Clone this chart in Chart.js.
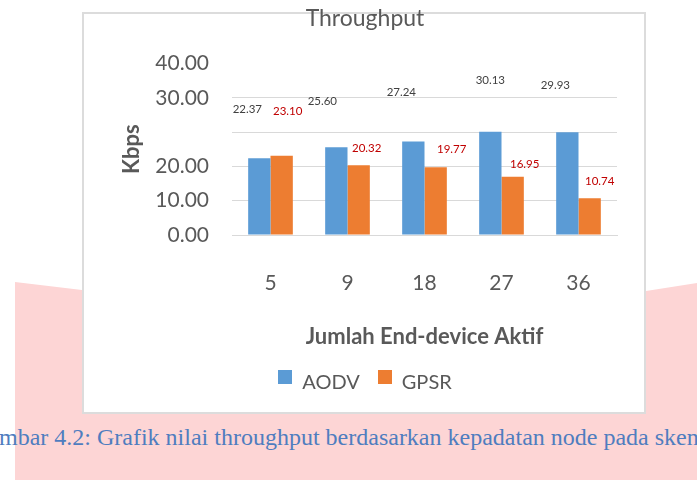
<!DOCTYPE html>
<html><head><meta charset="utf-8">
<script src="https://cdn.jsdelivr.net/npm/chart.js@4.4.1/dist/chart.umd.min.js"></script>
<style>
html,body{margin:0;padding:0;width:697px;height:480px;overflow:hidden;background:#fff;}
#pink{position:absolute;left:0;top:0;width:697px;height:480px;background:#fdd5d5;clip-path:polygon(15px 282px,82px 290px,646px 291px,697px 283px,697px 480px,15px 480px);}
#box{position:absolute;left:82px;top:12px;width:564px;height:402px;box-sizing:border-box;border:2px solid #dcdcdc;background:#fff;}
#c{position:absolute;left:82px;top:0;}
#caption{position:absolute;left:-29px;top:425px;font:24px "Liberation Serif",serif;line-height:24px;color:#4f7dbf;white-space:nowrap;}
</style></head><body>
<div id="pink"></div><div id="box"></div>
<canvas id="c" width="564" height="414"></canvas>
<div id="caption">Gambar 4.2: Grafik nilai throughput berdasarkan kepadatan node pada skenario</div>
<script>
const categories = ['5', '9', '18', '27', '36'];
const aodv = [22.37, 25.60, 27.24, 30.13, 29.93];
const gpsr = [23.10, 20.32, 19.77, 16.95, 10.74];
const yTickLabels = ['0.00', '10.00', '20.00', '', '30.00', '40.00'];
// pixel shifts of the value labels relative to the bar tops (as placed in the reference)
const aodvLabelShift = [[-12, -49], [-14, -46], [-12, -49], [0, -51], [-12, -47]];
const gpsrLabelShift = [[6, -44], [8, -17], [16, -18], [12, -13], [10, -17]];

const FONT = 'Lato';
const GREY = '#595959';

// legend swatch: square sitting slightly above the text centre, like the reference
function swatch(color) {
  const c = document.createElement('canvas');
  c.width = 14; c.height = 26;
  const g = c.getContext('2d');
  g.fillStyle = color;
  g.fillRect(0, 0, 14, 14);
  return c;
}

const valueLabels = {
  id: 'valueLabels',
  afterDatasetsDraw(chart) {
    const ctx = chart.ctx;
    const shifts = [aodvLabelShift, gpsrLabelShift];
    const colors = ['#404040', '#c00000'];
    ctx.save();
    ctx.font = '11.5px ' + FONT;
    ctx.textAlign = 'center';
    ctx.textBaseline = 'middle';
    chart.data.datasets.forEach((ds, di) => {
      const meta = chart.getDatasetMeta(di);
      ctx.fillStyle = colors[di];
      meta.data.forEach((bar, i) => {
        const s = shifts[di][i];
        ctx.fillText(ds.data[i].toFixed(2), bar.x + s[0], bar.y + s[1]);
      });
    });
    ctx.restore();
  }
};

new Chart(document.getElementById('c'), {
  type: 'bar',
  data: {
    labels: categories,
    datasets: [
      { label: 'AODV', data: aodv, backgroundColor: '#5b9bd5', categoryPercentage: 0.58, barPercentage: 1 },
      { label: 'GPSR', data: gpsr, backgroundColor: '#ed7d31', categoryPercentage: 0.58, barPercentage: 1 }
    ]
  },
  options: {
    responsive: false,
    animation: false,
    layout: { padding: { left: 31, right: 29, top: 5, bottom: 11 } },
    plugins: {
      tooltip: { enabled: false },
      title: {
        display: true, text: 'Throughput', color: GREY,
        font: { family: FONT, size: 23, weight: 'normal' },
        padding: { top: 0, bottom: 30.9 }
      },
      legend: {
        position: 'bottom',
        labels: {
          color: GREY, font: { family: FONT, size: 20 },
          boxWidth: 14, boxHeight: 14, padding: 18,
          usePointStyle: true,
          generateLabels(chart) {
            const items = Chart.defaults.plugins.legend.labels.generateLabels(chart);
            items.forEach(it => { it.pointStyle = swatch(it.fillStyle); });
            return items;
          }
        }
      }
    },
    scales: {
      x: {
        grid: { display: false, drawTicks: false },
        border: { display: true, color: '#d9d9d9', width: 1 },
        ticks: { color: GREY, font: { family: FONT, size: 21 }, padding: 35.4 },
        title: {
          display: true, text: 'Jumlah End-device Aktif', color: GREY,
          font: { family: FONT, size: 22, weight: 'bold' },
          padding: { top: 0, bottom: 4.8 }
        },
        afterFit(scale) { scale.height = 120; }
      },
      y: {
        min: 0, max: 50,
        grid: {
          drawTicks: false,
          color: (c) => (c.tick && c.tick.value === 50) ? 'rgba(0,0,0,0)' : '#d9d9d9'
        },
        border: { display: false },
        ticks: {
          stepSize: 10, color: GREY, font: { family: FONT, size: 21 }, padding: 23,
          callback: (v, i) => yTickLabels[i]
        },
        title: {
          display: true, text: 'Kbps', color: GREY,
          font: { family: FONT, size: 22, weight: 'bold' },
          padding: { top: 5.8, bottom: 0 }
        },
        afterFit(scale) { scale.width = 119; }
      }
    }
  },
  plugins: [valueLabels]
});
</script>
</body></html>
